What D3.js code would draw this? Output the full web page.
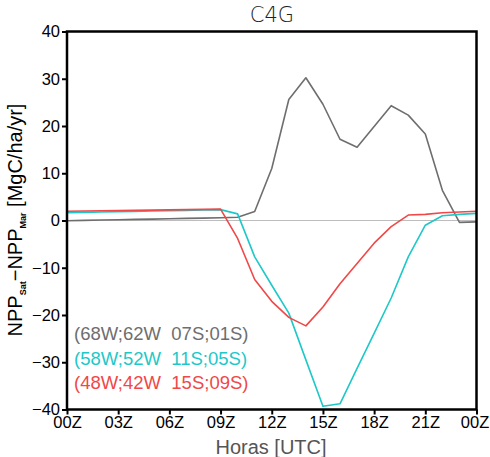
<!DOCTYPE html>
<html>
<head>
<meta charset="utf-8">
<script src="https://cdn.jsdelivr.net/npm/d3@7"></script>
<style>
  body { margin: 0; background: #fff; }
  text { font-family: "Liberation Sans", Arial, sans-serif; }
</style>
</head>
<body>
<div id="chart"></div>
<script>
// hours 0..24 (UTC)
const hours = d3.range(0, 25);
const hourTicks = [0, 3, 6, 9, 12, 15, 18, 21, 24];
const hourLabels = ['00Z', '03Z', '06Z', '09Z', '12Z', '15Z', '18Z', '21Z', '00Z'];
const yTicks = [-40, -30, -20, -10, 0, 10, 20, 30, 40];

const seriesNames = ['(68W;62W  07S;01S)', '(58W;52W  11S;05S)', '(48W;42W  15S;09S)'];
const seriesColors = ['#6e6e6e', '#1ec8c8', '#f04848'];

const grayValues = [
  -0.05, 0.02, 0.09, 0.16, 0.23, 0.30, 0.37, 0.44, 0.51, 0.58,
  0.68, 1.9, 11.0, 25.6, 30.2, 24.6, 17.2, 15.5, 19.9, 24.3,
  22.3, 18.3, 6.4, -0.4, -0.3
];
const cyanValues = [
  1.65, 1.73, 1.8, 1.87, 1.94, 2.01, 2.08, 2.15, 2.22, 2.3,
  1.4, -7.7, -13.7, -19.6, -29.5, -39.3, -38.8, -31.3, -23.9, -16.4,
  -7.7, -1.0, 1.0, 1.3, 1.5
];
const redValues = [
  1.95, 2.0, 2.05, 2.1, 2.15, 2.2, 2.25, 2.3, 2.35, 2.4,
  -3.8, -12.5, -17.1, -20.5, -22.3, -18.3, -13.4, -9.1, -4.8, -1.3,
  1.15, 1.3, 1.65, 1.8, 1.95
];
const seriesValues = [grayValues, cyanValues, redValues];

const width = 490, height = 457;
const margin = { top: 31.5, right: 13.5, bottom: 47.5, left: 67 };
const innerW = width - margin.left - margin.right;
const innerH = height - margin.top - margin.bottom;

const svg = d3.select('#chart').append('svg')
  .attr('width', width)
  .attr('height', height);

const g = svg.append('g')
  .attr('transform', `translate(${margin.left},${margin.top})`);

const x = d3.scaleLinear().domain([0, 24]).range([0, innerW]);
const y = d3.scaleLinear().domain([-40, 40]).range([innerH, 0]);

// zero line
g.append('line')
  .attr('x1', 0).attr('x2', innerW)
  .attr('y1', y(0)).attr('y2', y(0))
  .attr('stroke', '#bdbdbd')
  .attr('stroke-width', 1.2);

// series
const line = d3.line()
  .x((d, i) => x(hours[i]))
  .y(d => y(d));

seriesValues.forEach((vals, i) => {
  g.append('path')
    .datum(vals)
    .attr('fill', 'none')
    .attr('stroke', seriesColors[i])
    .attr('stroke-width', 1.6)
    .attr('stroke-linejoin', 'round')
    .attr('d', line);
});

// axes
const xAxis = d3.axisBottom(x)
  .tickValues(hourTicks)
  .tickSize(5)
  .tickPadding(2)
  .tickFormat((d, i) => hourLabels[i]);
const xg = g.append('g')
  .attr('transform', `translate(0,${innerH})`)
  .call(xAxis);

const yAxis = d3.axisLeft(y)
  .tickValues(yTicks)
  .tickSize(5)
  .tickPadding(2)
  .tickFormat(d => d < 0 ? '\u2212' + Math.abs(d) : d);
const yg = g.append('g').call(yAxis);

[xg, yg].forEach(ax => {
  ax.select('.domain').remove();
  ax.selectAll('line').attr('stroke', '#000').attr('stroke-width', 2);
  ax.selectAll('text')
    .attr('fill', '#000')
    .style('font-size', '16.5px')
    .style('font-family', '"Liberation Sans", Arial, sans-serif')
    .style('font-weight', '500');
});
// keep the last hour label inside the window
xg.selectAll('.tick:last-of-type text').attr('dx', -2);

// frame
g.append('rect')
  .attr('x', 0).attr('y', 0)
  .attr('width', innerW).attr('height', innerH)
  .attr('fill', 'none')
  .attr('stroke', '#000')
  .attr('stroke-width', 2.5);

// legend text
seriesNames.forEach((name, i) => {
  g.append('text')
    .attr('x', 7)
    .attr('y', 308.5 + i * 24.5)
    .attr('fill', seriesColors[i])
    .style('font-size', '18.5px')
    .style('white-space', 'pre')
    .attr('xml:space', 'preserve')
    .text(name);
});

// title
svg.append('text')
  .attr('x', 272)
  .attr('y', 22)
  .attr('text-anchor', 'middle')
  .attr('fill', '#222')
  .style('font-size', '21px')
  .style('font-family', '"DejaVu Sans", sans-serif')
  .style('font-weight', '200')
  .text('C4G');

// x axis title
svg.append('text')
  .attr('x', 271)
  .attr('y', 454)
  .attr('text-anchor', 'middle')
  .attr('fill', '#555')
  .style('font-size', '20px')
  .text('Horas [UTC]');

// y axis title with subscripts
const yt = svg.append('text')
  .attr('transform', 'translate(22,220) rotate(-90)')
  .attr('text-anchor', 'middle')
  .attr('fill', '#000')
  .style('font-size', '20px');
yt.append('tspan').text('NPP');
yt.append('tspan').attr('dy', 4).style('font-size', '9px').style('font-weight', 'bold').text('Sat');
yt.append('tspan').attr('dy', -4).text('\u2212NPP');
yt.append('tspan').attr('dy', 4).style('font-size', '9px').style('font-weight', 'bold').text('Mar');
yt.append('tspan').attr('dy', -4).text(' [MgC/ha/yr]');
</script>
</body>
</html>
